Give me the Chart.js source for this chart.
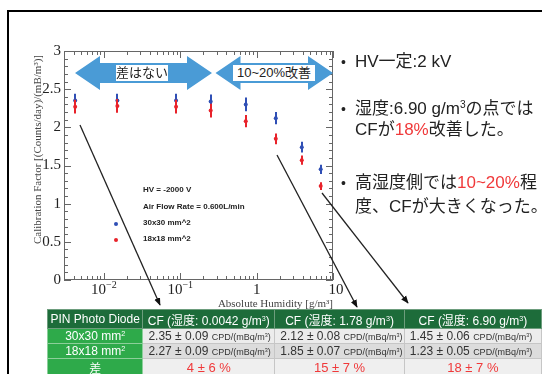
<!DOCTYPE html>
<html>
<head>
<meta charset="utf-8">
<script src="https://cdn.jsdelivr.net/npm/chart.js@4.4.0/dist/chart.umd.min.js"></script>
<style>
  html, body { margin: 0; padding: 0; background: #fff; }
  body { width: 542px; height: 374px; overflow: hidden; position: relative;
         font-family: "Liberation Sans", "Noto Sans CJK JP", sans-serif; color: #222; }
  #frame { position: absolute; left: 7px; top: 10px; width: 620px; height: 420px; border: 2px solid #000; }
  #wrap { position: absolute; left: 0; top: 0; width: 345px; height: 310px; }
  #overlay { position: absolute; left: 0; top: 0; width: 542px; height: 374px; pointer-events: none; }
  .lbl { position: absolute; background: #fff; font-size: 13px; line-height: 16px; height: 16px;
         text-align: center; color: #222; white-space: nowrap; }
  .leg { position: absolute; font-size: 8px; font-weight: bold; color: #222; white-space: nowrap; line-height: 10px; }
  .dot { position: absolute; width: 4px; height: 4px; border-radius: 2px; }
  .txt { position: absolute; left: 355px; font-size: 17px; line-height: 20px; white-space: nowrap; color: #222; }
  .bul { position: absolute; left: 341px; font-size: 14px; line-height: 20px; color: #222; }
  .red { color: #f0393a; }
  table { position: absolute; left: 47px; top: 309px; border-collapse: collapse; table-layout: fixed; }
  td, th { padding: 0; white-space: nowrap; overflow: hidden; font-size: 12px; }
  th { background: #1d6c3a; color: #fff; font-weight: normal; height: 18px; text-align: center;
       border: 1px solid #6d9d7d; }
  td.g { background: #2eaa4a; color: #fff; text-align: center; border: 1px solid #8ccf9a; }
  td.v { color: #333; border: 1px solid #c6c6c6; padding-left: 5px; }
  td.d { color: #f0393a; text-align: center; border: 1px solid #c6c6c6; font-size: 13px; }
  tr.r1 td.v, tr.r1 td.d { background: #ececec; }
  tr.r2 td.v { background: #dcdcdc; }
  tr.r3 td.d { background: #efefef; }
  tr.r1 td, tr.r2 td { height: 14px; }
  tr.r3 td { height: 16px; }
  .u { font-size: 9px; }
  sup { font-size: 0.6em; vertical-align: 0.55em; line-height: 0; }
</style>
</head>
<body>
<div id="frame"></div>
<div id="wrap"><canvas id="c"></canvas></div>

<svg id="overlay" width="542" height="374">
  <defs>
    <marker id="ah" viewBox="0 0 10 10" refX="9" refY="5" markerWidth="6" markerHeight="6" orient="auto">
      <path d="M0,1 L10,5 L0,9 Z" fill="#111"/>
    </marker>
  </defs>
  <polygon fill="#4a9bd6" points="75,73 100,56 100,63 187,63 187,56 212,73 187,90 187,83 100,83 100,90"/>
  <polygon fill="#4a9bd6" points="215.5,73 240.5,56 240.5,63 308,63 308,56 333,73 308,90 308,83 240.5,83 240.5,90"/>
  <line x1="80" y1="125" x2="160" y2="305" stroke="#222" stroke-width="1.3" marker-end="url(#ah)"/>
  <line x1="277" y1="155" x2="357" y2="307" stroke="#222" stroke-width="1.3" marker-end="url(#ah)"/>
  <line x1="322" y1="193" x2="408" y2="303" stroke="#222" stroke-width="1.3" marker-end="url(#ah)"/>
</svg>

<div class="lbl" style="left:116px;top:65px;width:52px;">差はない</div>
<div class="lbl" style="left:233px;top:65px;width:82px;">10~20%改善</div>

<div class="leg" style="left:143px;top:185px;">HV = -2000 V</div>
<div class="leg" style="left:143px;top:202px;">Air Flow Rate = 0.600L/min</div>
<div class="leg" style="left:143px;top:218px;">30x30 mm^2</div>
<div class="leg" style="left:143px;top:234px;">18x18 mm^2</div>
<div class="dot" style="left:114px;top:222px;background:#2f4fb5;"></div>
<div class="dot" style="left:114px;top:238px;background:#e8222a;"></div>

<div class="bul" style="top:52px;">•</div>
<div class="txt" style="top:52px;">HV一定:2 kV</div>
<div class="bul" style="top:99px;">•</div>
<div class="txt" style="top:99px;">湿度:6.90 g/m<sup>3</sup>の点では</div>
<div class="txt" style="top:120px;">CFが<span class="red">18%</span>改善した。</div>
<div class="bul" style="top:173px;">•</div>
<div class="txt" style="top:173px;">高湿度側では<span class="red">10~20%</span>程</div>
<div class="txt" style="top:197px;">度、CFが大きくなった。</div>

<table id="tbl"></table>

<script>
// measured points (absolute humidity in g/m^3, calibration factor)
const humidity = [0.0042, 0.015, 0.088, 0.25, 0.72, 1.78, 3.9, 6.90];
const cf30 = [2.35, 2.35, 2.35, 2.34, 2.30, 2.12, 1.74, 1.45];
const err30 = [0.09, 0.09, 0.09, 0.09, 0.09, 0.08, 0.07, 0.06];
const cf18 = [2.27, 2.28, 2.27, 2.22, 2.08, 1.85, 1.57, 1.23];
const err18 = [0.09, 0.09, 0.09, 0.09, 0.08, 0.07, 0.06, 0.05];

const yTicks = [0, 0.5, 1, 1.5, 2, 2.5, 3];
const yTickLabels = ['0', '0.5', '1', '1.5', '2', '2.5', '3'];
const xTicks = [0.01, 0.1, 1, 10];
const xTickBase = ['10', '10', '1', '10'];
const xTickExp = ['\u22122', '\u22121', '', ''];

// table values
const tblHum = ['0.0042', '1.78', '6.90'];
const tbl30 = ['2.35 ± 0.09', '2.12 ± 0.08', '1.45 ± 0.06'];
const tbl18 = ['2.27 ± 0.09', '1.85 ± 0.07', '1.23 ± 0.05'];
const tblDiff = ['4 ± 6 %', '15 ± 7 %', '18 ± 7 %'];

const BLUE = '#2f4fb5';
const RED = '#e8222a';

// build table
const unit = ' <span class="u">CPD/(mBq/m<sup>3</sup>)</span>';
let h = '<colgroup><col style="width:97px"><col style="width:133px"><col style="width:130px"><col style="width:140px"></colgroup>';
h += '<tr><th>PIN Photo Diode</th>' + tblHum.map(v => '<th>CF (湿度: ' + v + ' g/m<sup>3</sup>)</th>').join('') + '</tr>';
h += '<tr class="r1"><td class="g">30x30 mm<sup>2</sup></td>' + tbl30.map(v => '<td class="v">' + v + unit + '</td>').join('') + '</tr>';
h += '<tr class="r2"><td class="g">18x18 mm<sup>2</sup></td>' + tbl18.map(v => '<td class="v">' + v + unit + '</td>').join('') + '</tr>';
h += '<tr class="r3"><td class="g">差</td>' + tblDiff.map(v => '<td class="d">' + v + '</td>').join('') + '</tr>';
document.getElementById('tbl').innerHTML = h;

// error bars drawn through the scales
const errorBars = {
  id: 'errorBars',
  afterDatasetsDraw(chart) {
    const { ctx, scales: { x, y } } = chart;
    const sets = [[cf30, err30, BLUE], [cf18, err18, RED]];
    ctx.save();
    ctx.lineWidth = 2;
    for (const [vals, errs, col] of sets) {
      ctx.strokeStyle = col;
      vals.forEach((v, i) => {
        const px = Math.round(x.getPixelForValue(humidity[i]));
        ctx.beginPath();
        ctx.moveTo(px, y.getPixelForValue(v - errs[i]));
        ctx.lineTo(px, y.getPixelForValue(v + errs[i]));
        ctx.stroke();
      });
    }
    ctx.restore();
  }
};

// ROOT-like frame with inward ticks, labels and axis titles
const rootFrame = {
  id: 'rootFrame',
  afterDraw(chart) {
    const { ctx, chartArea: a, scales: { x, y } } = chart;
    ctx.save();
    ctx.strokeStyle = '#666';
    ctx.lineWidth = 1;
    ctx.strokeRect(a.left + 0.5, a.top + 0.5, a.right - a.left - 1, a.bottom - a.top - 1);
    const seg = (x1, y1, x2, y2) => { ctx.beginPath(); ctx.moveTo(x1, y1); ctx.lineTo(x2, y2); ctx.stroke(); };
    for (let k = 0; k <= 30; k++) {
      const v = k / 10;
      const len = k % 5 === 0 ? 7 : 4;
      const py = Math.round(y.getPixelForValue(v)) + 0.5;
      seg(a.left, py, a.left + len, py);
      seg(a.right, py, a.right - len, py);
    }
    for (let d = -3; d <= 1; d++) {
      for (let m = 1; m <= 9; m++) {
        const v = m * Math.pow(10, d);
        if (v < x.min * 0.999 || v > x.max * 1.001) continue;
        const len = m === 1 ? 7 : 4;
        const px = Math.round(x.getPixelForValue(v)) + 0.5;
        seg(px, a.bottom, px, a.bottom - len);
        seg(px, a.top, px, a.top + len);
      }
    }
    // y tick labels
    ctx.fillStyle = '#222';
    ctx.font = '15px "Liberation Serif", serif';
    ctx.textAlign = 'right';
    ctx.textBaseline = 'middle';
    yTicks.forEach((v, i) => ctx.fillText(yTickLabels[i], a.left - 3, y.getPixelForValue(v)));
    // x tick labels with superscript exponents
    ctx.textBaseline = 'alphabetic';
    ctx.textAlign = 'left';
    xTicks.forEach((v, i) => {
      ctx.font = '15px "Liberation Serif", serif';
      const wb = ctx.measureText(xTickBase[i]).width;
      ctx.font = '10px "Liberation Serif", serif';
      const we = xTickExp[i] ? ctx.measureText(xTickExp[i]).width : 0;
      let px = x.getPixelForValue(v) - (wb + we) / 2;
      if (i === xTicks.length - 1) px += 3;
      ctx.font = '15px "Liberation Serif", serif';
      ctx.fillText(xTickBase[i], px, a.bottom + 14);
      if (we) {
        ctx.font = '10px "Liberation Serif", serif';
        ctx.fillText(xTickExp[i], px + wb, a.bottom + 8);
      }
    });
    // axis titles
    ctx.fillStyle = '#444';
    ctx.font = '11px "Liberation Serif", serif';
    ctx.textAlign = 'right';
    ctx.fillText('Absolute Humidity [g/m\u00b3]', a.right, a.bottom + 27);
    ctx.save();
    ctx.translate(41, 55);
    ctx.rotate(-Math.PI / 2);
    ctx.textAlign = 'right';
    ctx.fillText('Calibration Factor [(Counts/day)/(mB/m\u00b3)]', 0, 0);
    ctx.restore();
    ctx.restore();
  }
};

new Chart(document.getElementById('c'), {
  type: 'scatter',
  data: {
    datasets: [
      {
        label: '30x30 mm^2',
        data: humidity.map((hv, i) => ({ x: hv, y: cf30[i] })),
        backgroundColor: BLUE, borderColor: BLUE,
        pointRadius: 2, pointBorderWidth: 0
      },
      {
        label: '18x18 mm^2',
        data: humidity.map((hv, i) => ({ x: hv, y: cf18[i] })),
        backgroundColor: RED, borderColor: RED,
        pointRadius: 2, pointBorderWidth: 0
      }
    ]
  },
  options: {
    responsive: true,
    maintainAspectRatio: false,
    animation: false,
    layout: { padding: { top: 51, right: 12, left: 0, bottom: 0 } },
    plugins: { legend: { display: false }, tooltip: { enabled: false } },
    scales: {
      x: {
        type: 'logarithmic', min: 0.003, max: 10,
        ticks: { display: false }, grid: { display: false }, border: { display: false },
        afterFit: s => { s.height = 30; }
      },
      y: {
        min: 0, max: 3,
        ticks: { display: false }, grid: { display: false }, border: { display: false },
        afterFit: s => { s.width = 64; }
      }
    }
  },
  plugins: [errorBars, rootFrame]
});
</script>
</body>
</html>
